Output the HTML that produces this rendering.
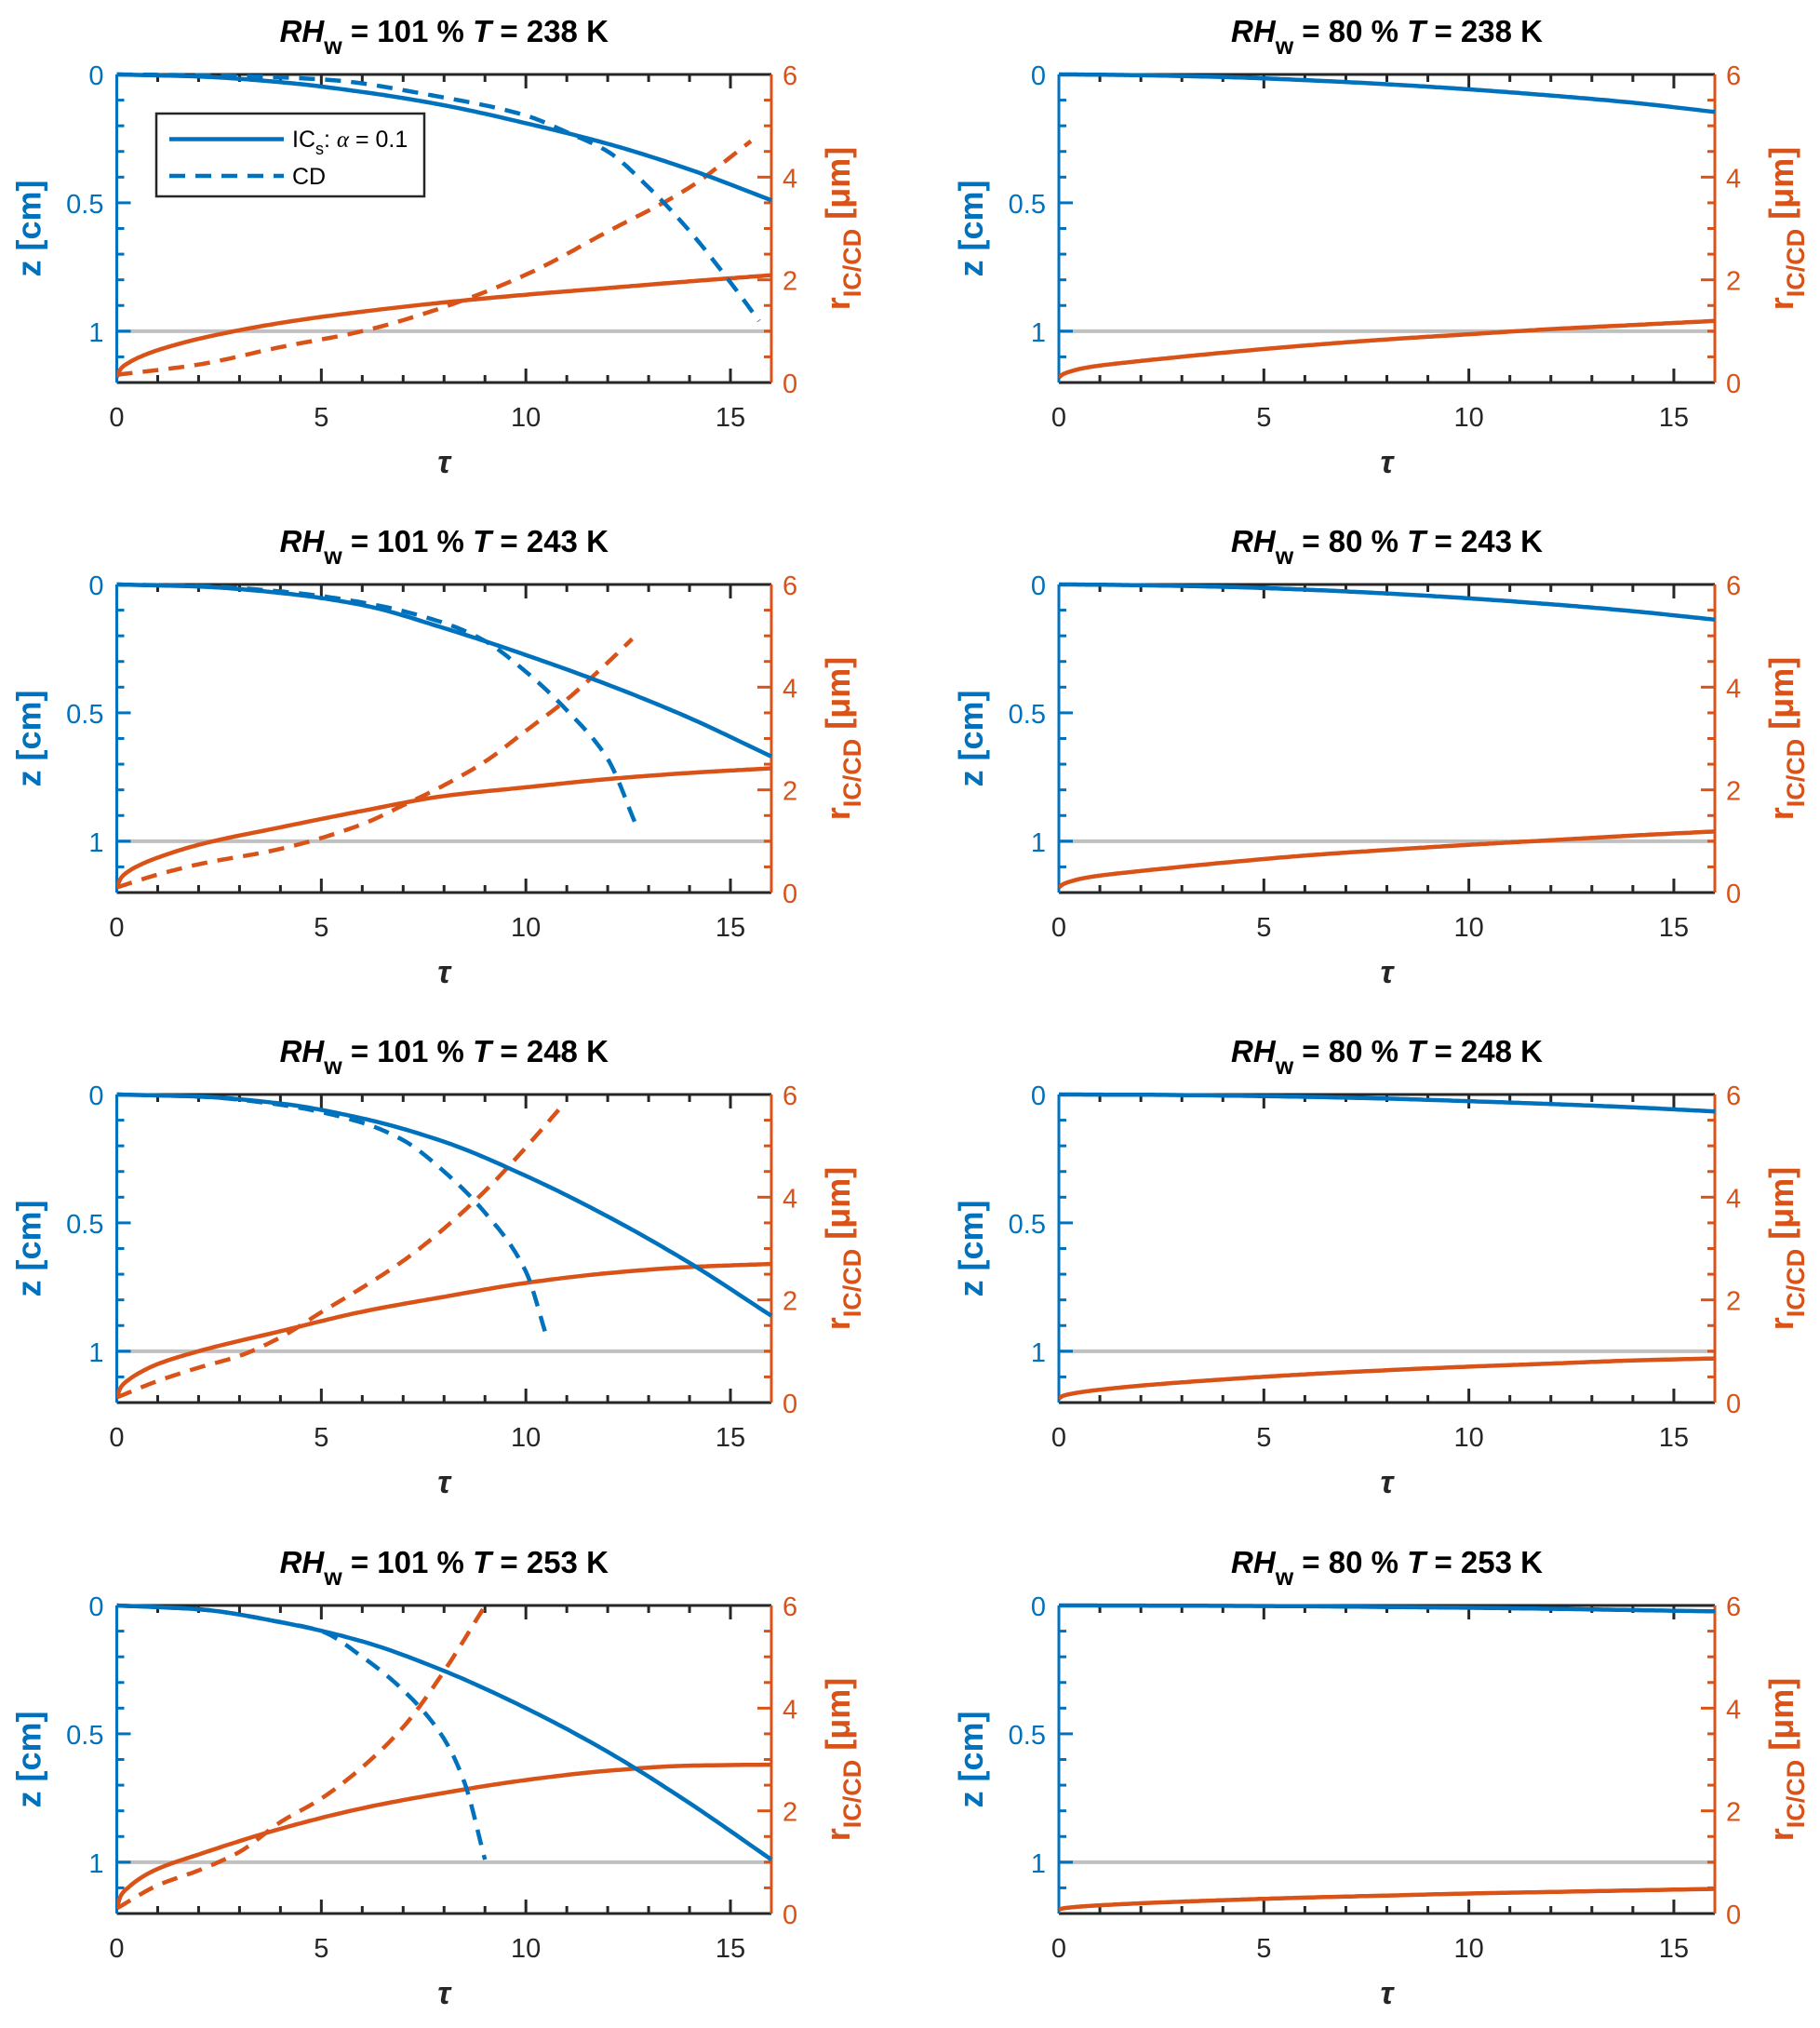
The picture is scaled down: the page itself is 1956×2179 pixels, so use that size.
<!DOCTYPE html>
<html><head><meta charset="utf-8"><style>
html,body{margin:0;padding:0;background:#fff;}
svg{display:block;}
text{font-family:"Liberation Sans Narrow","Liberation Sans",sans-serif;}
</style></head>
<body>
<svg id="fig" width="1956" height="2179" viewBox="0 0 1956 2179" xmlns="http://www.w3.org/2000/svg"></svg>
<script>
// ---- data ----
const titlesRH = ["101","80"];
const titlesT = ["238","243","248","253"];
const xTickLabels = ["0","5","10","15"];
const zTickLabels = ["0","0.5","1"];
const rTickLabels = ["0","2","4","6"];

// left column (RHw = 101 %)
const tauIC_L = [[0,2,4,6,8,10,12,14,16],[0,2,4,6,8,10,12,14,16],[0,2,4,6,8,10,12,14,16],[0,2,4,6,8,10,12,14,16]];
const zIC_L = [
 [0,0.008,0.03,0.068,0.12,0.19,0.27,0.37,0.49],
 [0,0.008,0.033,0.08,0.17,0.275,0.39,0.52,0.67],
 [0,0.008,0.035,0.093,0.184,0.317,0.475,0.656,0.862],
 [0,0.015,0.065,0.14,0.255,0.4,0.57,0.77,0.99]];
const tauCD_L = [
 [0,2,5,8,10,11,12,13,14,15,15.7],
 [0,2,4,6,8,9,10,11,12,12.7],
 [0,2,4,6,7,8,9,10,10.5],
 [0,2,4,5,6,7,8,8.5,9]];
const zCD_L = [
 [0,0.003,0.019,0.09,0.16,0.225,0.3,0.44,0.61,0.81,0.96],
 [0,0.006,0.027,0.07,0.15,0.22,0.34,0.49,0.68,0.94],
 [0,0.008,0.04,0.11,0.178,0.3,0.46,0.69,0.94],
 [0,0.015,0.065,0.1,0.2,0.33,0.52,0.69,0.99]];
const tauR_L = [0,0.1,0.3,0.6,1,2,4,6,8,10,12,14,16];
const rIC_L = [
 [0.1,0.27,0.39,0.51,0.63,0.85,1.16,1.38,1.56,1.71,1.84,1.97,2.09],
 [0.1,0.28,0.42,0.55,0.68,0.93,1.27,1.59,1.88,2.05,2.21,2.33,2.42],
 [0.1,0.3,0.45,0.6,0.75,1.0,1.39,1.77,2.06,2.33,2.52,2.64,2.7],
 [0.1,0.35,0.52,0.7,0.87,1.15,1.65,2.05,2.35,2.6,2.78,2.88,2.9]];
const tauRCD_L = [
 [0,2,4,6,8,10,12,14,15.5],
 [0,1,2,4,6,7,8,9,10,11,12,12.6],
 [0,1,2,3,4,5,6,7,8,9,10,10.8],
 [0,1,2,3,4,5,6,7,8,9]];
const rCD_L = [
 [0.15,0.35,0.69,1.0,1.47,2.1,2.94,3.8,4.7],
 [0.1,0.35,0.55,0.85,1.33,1.7,2.09,2.55,3.15,3.76,4.48,4.94],
 [0.1,0.42,0.68,0.91,1.27,1.76,2.24,2.76,3.39,4.12,4.97,5.7],
 [0.1,0.55,0.84,1.2,1.78,2.24,2.85,3.63,4.72,5.99]];

// right column (RHw = 80 %)
const tau_R = [0,0.1,0.3,0.6,1,2,4,6,8,10,12,14,16];
const zIC_R = [
 [0,0,0,0.0005,0.001,0.003,0.01,0.022,0.038,0.058,0.082,0.11,0.146],
 [0,0,0,0.0005,0.001,0.003,0.009,0.02,0.035,0.054,0.077,0.104,0.137],
 [0,0,0,0.0002,0.0005,0.001,0.004,0.009,0.016,0.026,0.037,0.05,0.066],
 [0,0,0,0.0001,0.0002,0.0005,0.0015,0.003,0.006,0.009,0.013,0.018,0.023]];
const rIC_R = [
 [0.1,0.16,0.22,0.28,0.33,0.42,0.58,0.72,0.84,0.94,1.04,1.12,1.2],
 [0.1,0.16,0.22,0.28,0.33,0.42,0.58,0.72,0.83,0.93,1.02,1.11,1.19],
 [0.08,0.13,0.17,0.21,0.25,0.33,0.45,0.55,0.63,0.7,0.76,0.82,0.86],
 [0.08,0.1,0.12,0.14,0.16,0.2,0.26,0.31,0.35,0.39,0.42,0.45,0.48]];

// ---- drawing ----
const NS="http://www.w3.org/2000/svg";
const svg=document.getElementById('fig');
const BLUE="#0072BD", ORANGE="#D95319", DARK="#262626";
function el(tag,attrs,parent){const e=document.createElementNS(NS,tag);for(const k in attrs)e.setAttribute(k,attrs[k]);(parent||svg).appendChild(e);return e;}
function monoSample(xs,ys){
  const n=xs.length, d=[], m=new Array(n);
  for(let i=0;i<n-1;i++) d.push((ys[i+1]-ys[i])/(xs[i+1]-xs[i]));
  m[0]=d[0]; m[n-1]=d[n-2];
  for(let i=1;i<n-1;i++){
    if(d[i-1]*d[i]<=0) m[i]=0;
    else { const h0=xs[i]-xs[i-1], h1=xs[i+1]-xs[i];
      const w1=2*h1+h0, w2=h1+2*h0; m[i]=(w1+w2)/(w1/d[i-1]+w2/d[i]); }
  }
  const out=[];
  for(let i=0;i<n-1;i++){
    const h=xs[i+1]-xs[i], N=20;
    for(let k=0;k<N;k++){
      const t=k/N, t2=t*t, t3=t2*t;
      const y=(2*t3-3*t2+1)*ys[i]+(t3-2*t2+t)*h*m[i]+(-2*t3+3*t2)*ys[i+1]+(t3-t2)*h*m[i+1];
      out.push([xs[i]+t*h,y]);
    }
  }
  out.push([xs[n-1],ys[n-1]]);
  return out;
}
const colX=[[125.5,829],[1138,1843]];
const rowTop=[80,628,1176,1725];
const PH=331;

for(let c=0;c<2;c++){
 for(let r=0;r<4;r++){
  const x0=colX[c][0], x1=colX[c][1], y0=rowTop[r], y1=y0+PH;
  const g=el('g',{});
  
  
  const X=t=>x0+(x1-x0)*t/16;
  const Z=z=>y0+PH*z/1.2;
  const R=v=>y1-PH*v/6;
  const cx=(x0+x1)/2;
  const tt=el('text',{x:cx,y:y0-35,'text-anchor':'middle','font-size':33,'font-weight':'bold',fill:'#000'},g);
  
  
  tt.innerHTML='<tspan font-style="italic">RH</tspan><tspan font-size="25" dy="13">w</tspan><tspan dy="-13"> = '+titlesRH[c]+' % </tspan><tspan font-style="italic">T</tspan><tspan> = '+titlesT[r]+' K</tspan>';
  const gl=el('line',{x1:x0,x2:x1,y1:Z(1),y2:Z(1),stroke:'#c0c0c0','stroke-width':4},g);
  
  
  for(let t=0;t<=16;t++){
    const L=(t%5===0)?15:8;
    el('line',{x1:X(t),x2:X(t),y1:y1,y2:y1-L,stroke:DARK,'stroke-width':3},g);
    el('line',{x1:X(t),x2:X(t),y1:y0,y2:y0+L,stroke:DARK,'stroke-width':3},g);
  }
  xTickLabels.forEach((s,i)=>{
    const tx=el('text',{x:X(i*5),y:y1+47,'text-anchor':'middle','font-size':29,fill:DARK},g);
    tx.textContent=s;
    
    
  });
  for(let k=0;k<=12;k++){
    const L=(k%5===0)?15:8;
    el('line',{x1:x0,x2:x0+L,y1:Z(k/10),y2:Z(k/10),stroke:BLUE,'stroke-width':3},g);
  }
  zTickLabels.forEach((s,i)=>{
    const tx=el('text',{x:x0-14,y:Z(i*0.5)+11,'text-anchor':'end','font-size':29,fill:BLUE},g);
    tx.textContent=s;
    
    
  });
  for(let k=0;k<=12;k++){
    const L=(k%4===0)?15:8;
    el('line',{x1:x1,x2:x1-L,y1:R(k/2),y2:R(k/2),stroke:ORANGE,'stroke-width':3},g);
  }
  rTickLabels.forEach((s,i)=>{
    const tx=el('text',{x:x1+12,y:R(i*2)+11,'text-anchor':'start','font-size':29,fill:ORANGE},g);
    tx.textContent=s;
    
    
  });
  el('line',{x1:x0,x2:x1,y1:y0,y2:y0,stroke:DARK,'stroke-width':3},g);
  el('line',{x1:x0,x2:x1,y1:y1,y2:y1,stroke:DARK,'stroke-width':3},g);
  const la=el('line',{x1:x0,x2:x0,y1:y0,y2:y1,stroke:BLUE,'stroke-width':3},g);
  
  
  const ra=el('line',{x1:x1,x2:x1,y1:y0,y2:y1,stroke:ORANGE,'stroke-width':3},g);
  
  
  const zl=el('text',{x:0,y:0,transform:'translate('+(x0-82)+','+((y0+y1)/2)+') rotate(-90)','text-anchor':'middle','font-size':36,'font-weight':'bold',fill:BLUE,'font-family':'"DejaVu Sans",sans-serif'},g);
  zl.textContent='z [cm]';
  
  
  const rl=el('text',{x:0,y:0,transform:'translate('+(x1+84)+','+((y0+y1)/2)+') rotate(-90)','text-anchor':'middle','font-size':36,'font-weight':'bold',fill:ORANGE,'font-family':'"DejaVu Sans",sans-serif'},g);
  rl.innerHTML='r<tspan font-size="27" dy="12">IC/CD</tspan><tspan dy="-12"> [μm]</tspan>';
  
  
  const tl=el('text',{x:cx,y:y1+97,'text-anchor':'middle','font-size':34,'font-style':'italic','font-weight':'bold',fill:DARK,'font-family':'"Liberation Serif",serif'},g);
  tl.textContent='τ';
  
  
  const clip='clip'+c+r;
  const cp=el('clipPath',{id:clip},g);
  el('rect',{x:x0,y:y0-3,width:x1-x0+3,height:PH+3},cp);
  const cg=el('g',{'clip-path':'url(#'+clip+')'},g);
  function curve(ts,vs,map,color,dash,name){
    const pts=monoSample(ts,vs).map(p=>X(p[0]).toFixed(1)+','+map(p[1]).toFixed(1));
    const p=el('polyline',{points:pts.join(' '),fill:'none',stroke:color,'stroke-width':4.5,'stroke-linejoin':'round','stroke-dasharray':dash?'17,11':'none'},cg);
    
    
  }
  if(c===0){
    curve(tauR_L,rIC_L[r],R,ORANGE,false,'r-ic-line');
    curve(tauRCD_L[r],rCD_L[r],R,ORANGE,true,'r-cd-line');
    curve(tauIC_L[r],zIC_L[r],Z,BLUE,false,'z-ic-line');
    curve(tauCD_L[r],zCD_L[r],Z,BLUE,true,'z-cd-line');
  } else {
    curve(tau_R,rIC_R[r],R,ORANGE,false,'r-ic-line');
    curve(tau_R,zIC_R[r],Z,BLUE,false,'z-ic-line');
  }
  if(c===0&&r===0){
    const lg=el('g',{},g);
    
    
    el('rect',{x:168,y:122,width:288,height:89,fill:'#fff',stroke:DARK,'stroke-width':2.5},lg);
    el('line',{x1:182,x2:305,y1:149.5,y2:149.5,stroke:BLUE,'stroke-width':4.5},lg);
    el('line',{x1:182,x2:305,y1:189,y2:189,stroke:BLUE,'stroke-width':4.5,'stroke-dasharray':'17,11'},lg);
    const e1=el('text',{x:314,y:158,'font-size':25,fill:'#000'},lg);
    e1.innerHTML='IC<tspan font-size="18" dy="8">s</tspan><tspan dy="-8">: </tspan><tspan font-style="italic" font-family="Liberation Serif, serif">α</tspan> = 0.1';
    
    
    const e2=el('text',{x:314,y:198,'font-size':25,fill:'#000'},lg);
    e2.textContent='CD';
    
    
  }
 }
}
</script>
</body></html>
